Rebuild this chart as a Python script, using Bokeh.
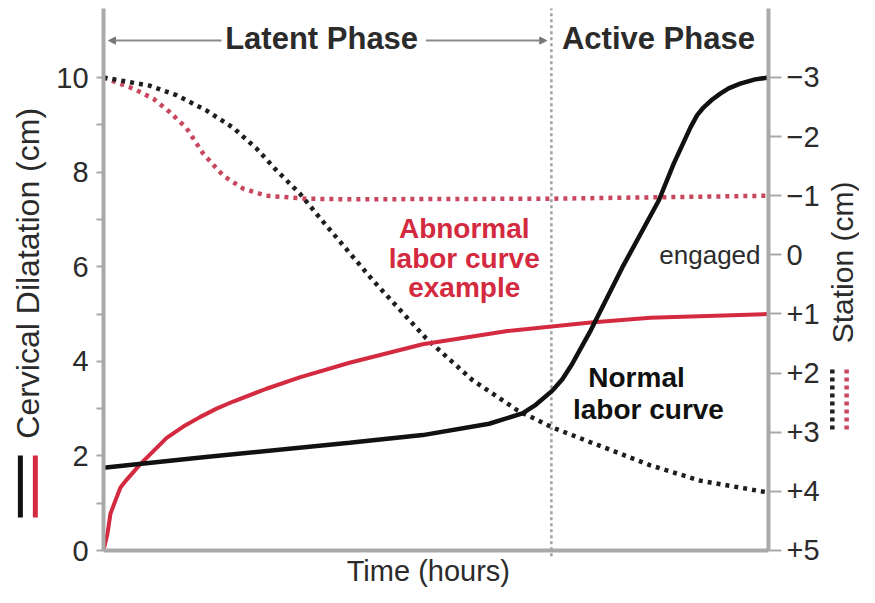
import math
from bokeh.plotting import figure
from bokeh.models import Range1d, LinearAxis, FixedTicker, Arrow, NormalHead
from bokeh.core.properties import value
from bokeh.embed import file_html
from bokeh.resources import INLINE

# ---------------- data ----------------
# time in hours (0 .. 20), dilatation in cm, station in cm
normal_t = [0, 3.0, 7.4, 9.6, 11.6, 12.6, 13.0, 13.5, 13.8, 14.1, 14.65, 15.6, 16.7, 17.15, 17.65,
            17.85, 18.05, 18.3, 18.55, 18.8, 19.15, 19.6, 20]
normal_dil = [1.75, 1.97, 2.28, 2.44, 2.68, 2.90, 3.08, 3.38, 3.62, 3.95, 4.65, 5.98, 7.40, 8.18, 8.94,
              9.20, 9.37, 9.53, 9.66, 9.77, 9.87, 9.96, 10.0]

abnormal_t = [0, 0.12, 0.21, 0.36, 0.51, 0.7, 1.1, 1.5, 1.9, 2.4, 2.9, 3.4, 3.9, 4.9, 5.9, 7.4, 9.6, 12.15, 14.65, 16.45, 20]
abnormal_dil = [0, 0.36, 0.78, 1.06, 1.33, 1.50, 1.82, 2.10, 2.38, 2.62, 2.82, 3.00, 3.15, 3.42, 3.66, 3.97, 4.36, 4.64, 4.82, 4.92, 5.0]

normal_st_t = [0, 1.4, 2.2, 3.1, 3.9, 4.6, 5.2, 5.9, 6.5, 8.1, 9.7, 11.1, 12.45, 13.5, 14.65, 16.45, 17.95, 20]
normal_station = [-3, -2.86, -2.70, -2.44, -2.15, -1.80, -1.43, -1.04, -0.63, 0.43, 1.41, 2.12, 2.63, 2.92, 3.17, 3.56, 3.82, 4.02]

abnormal_st_t = [0, 0.9, 1.5, 2.0, 2.5, 3.0, 3.6, 4.2, 4.9, 6.1, 7.4, 13.5, 20]
abnormal_station = [-3, -2.81, -2.64, -2.41, -2.14, -1.71, -1.34, -1.12, -1.00, -0.95, -0.94, -0.95, -1.0]

dil_ticks = [0, 2, 4, 6, 8, 10]
dil_minor = [1, 3, 5, 7, 9]
station_ticks = [-3, -2, -1, 0, 1, 2, 3, 4, 5]
station_labels = ["\u22123", "\u22122", "\u22121", "0", "+1", "+2", "+3", "+4", "+5"]
active_start = 13.47
t_end = 20

# ---------------- styling ----------------
FONT = "Liberation Sans"
AX = "#a9a9a9"
TXT = "#2b2b2b"
BLACK = "#111111"
RED = "#d42a40"
RED_DOT = "#c9465f"

p = figure(width=859, height=587,
           x_range=Range1d(-3.098, 22.737), y_range=Range1d(-0.782, 11.628),
           x_axis_location=None, y_axis_location=None,
           toolbar_location=None, output_backend="svg",
           min_border=0, outline_line_color=None,
           background_fill_color="white", border_fill_color="white")
p.xgrid.visible = False
p.ygrid.visible = False
p.extra_y_ranges = {"station": Range1d(5.626, -4.302)}

# left axis: cervical dilatation
ly = LinearAxis(fixed_location=0, bounds=(0, 11.459),
                ticker=FixedTicker(ticks=dil_ticks, minor_ticks=dil_minor))
ly.axis_line_color = AX
ly.axis_line_width = 4
ly.major_tick_line_color = AX
ly.major_tick_line_width = 2
ly.major_tick_out = 7
ly.major_tick_in = 0
ly.minor_tick_line_color = AX
ly.minor_tick_line_width = 2
ly.minor_tick_out = 7
ly.minor_tick_in = 0
ly.major_label_text_font = FONT
ly.major_label_text_font_size = "29px"
ly.major_label_text_color = TXT
ly.major_label_standoff = 8
p.add_layout(ly, "left")

# right axis: station
ry = LinearAxis(y_range_name="station", fixed_location=t_end, bounds=(-4.167, 5),
                ticker=FixedTicker(ticks=station_ticks, minor_ticks=[]),
                major_label_overrides={t: l for t, l in zip(station_ticks, station_labels)})
ry.axis_line_color = AX
ry.axis_line_width = 4
ry.major_tick_line_color = AX
ry.major_tick_line_width = 2
ry.major_tick_out = 13
ry.major_tick_in = 0
ry.minor_tick_line_color = None
ry.major_label_text_font = FONT
ry.major_label_text_font_size = "29px"
ry.major_label_text_color = TXT
ry.major_label_standoff = 5
p.add_layout(ry, "right")

# bottom axis: time
bx = LinearAxis(fixed_location=0, bounds=(0, t_end), ticker=FixedTicker(ticks=[], minor_ticks=[]))
bx.axis_line_color = AX
bx.axis_line_width = 4
bx.major_tick_line_color = None
bx.minor_tick_line_color = None
bx.major_label_text_font_size = "0px"
p.add_layout(bx, "below")

# phase divider
p.segment(x0=[active_start], y0=[-0.12], x1=[active_start], y1=[11.459],
          line_color="#a0a0a0", line_width=2.5, line_dash="3 3")

# curves
p.line(abnormal_st_t, abnormal_station, y_range_name="station",
       line_color=RED_DOT, line_width=4.5, line_dash="4 5")
p.line(normal_st_t, normal_station, y_range_name="station",
       line_color="#1e1e1e", line_width=4.5, line_dash="4 5")
p.line(abnormal_t, abnormal_dil, line_color=RED, line_width=4)
p.line(normal_t, normal_dil, line_color=BLACK, line_width=4.5)

# phase headers with arrows
p.text(x=[6.56, 16.69], y=[10.82, 10.82], text=["Latent Phase", "Active Phase"],
       text_font=value(FONT), text_font_style="bold", text_font_size="31px",
       text_color=TXT, text_align="center", text_baseline="middle")
p.add_layout(Arrow(end=NormalHead(size=7, fill_color="#777777", line_color="#777777"),
                   x_start=3.55, y_start=10.78, x_end=0.15, y_end=10.78,
                   line_color="#8a8a8a", line_width=2))
p.add_layout(Arrow(end=NormalHead(size=7, fill_color="#777777", line_color="#777777"),
                   x_start=9.7, y_start=10.78, x_end=13.33, y_end=10.78,
                   line_color="#8a8a8a", line_width=2))

# curve annotations
p.text(x=[10.85, 10.85, 10.85], y=[6.81, 6.17, 5.55],
       text=["Abnormal", "labor curve", "example"],
       text_font=value(FONT), text_font_style="bold", text_font_size="28px",
       text_color=RED, text_align="center", text_baseline="middle")
p.text(x=[16.03, 16.39], y=[3.65, 2.98], text=["Normal", "labor curve"],
       text_font=value(FONT), text_font_style="bold", text_font_size="28px",
       text_color=BLACK, text_align="center", text_baseline="middle")
p.text(x=[19.76], y=[0], y_range_name="station", text=["engaged"],
       text_font=value(FONT), text_font_size="26px",
       text_color=TXT, text_align="right", text_baseline="middle")

# axis titles
p.text(x=[-2.256], y=[5.86], text=["Cervical Dilatation (cm)"], angle=math.pi / 2,
       text_font=value(FONT), text_font_size="32px",
       text_color=TXT, text_align="center", text_baseline="middle")
p.text(x=[22.23], y=[6.09], text=["Station (cm)"], angle=math.pi / 2,
       text_font=value(FONT), text_font_size="30px",
       text_color=TXT, text_align="center", text_baseline="middle")
p.text(x=[9.77], y=[-0.423], text=["Time (hours)"],
       text_font=value(FONT), text_font_size="29px",
       text_color=TXT, text_align="center", text_baseline="middle")

# legend keys next to the axis titles
p.segment(x0=[-2.50], y0=[0.70], x1=[-2.50], y1=[2.01], line_color=BLACK, line_width=5)
p.segment(x0=[-2.05], y0=[0.70], x1=[-2.05], y1=[2.01], line_color=RED, line_width=5)
p.segment(x0=[21.92], y0=[2.56], x1=[21.92], y1=[3.83], line_color="#1e1e1e",
          line_width=4.5, line_dash="4 4")
p.segment(x0=[22.35], y0=[2.56], x1=[22.35], y1=[3.83], line_color=RED_DOT,
          line_width=4.5, line_dash="4 4")

open("out.html", "w").write(file_html(p, INLINE))
